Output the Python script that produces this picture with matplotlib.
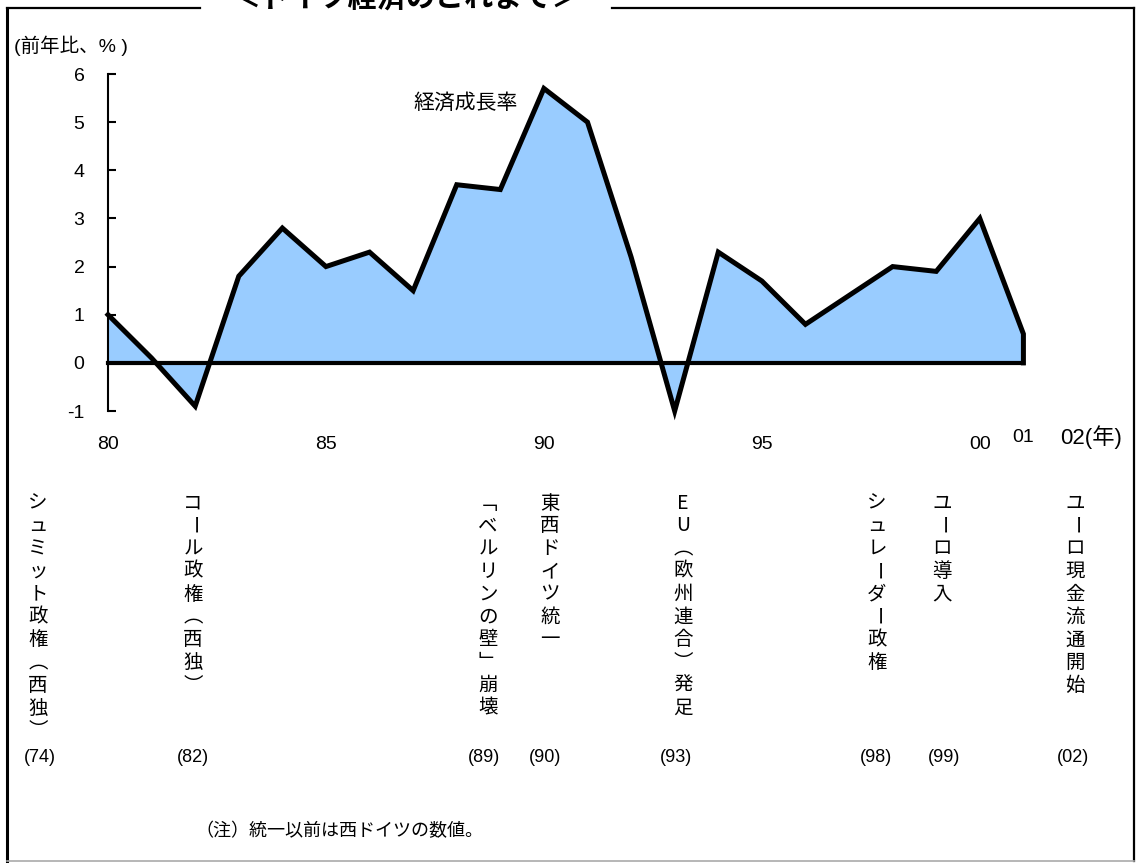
import matplotlib
matplotlib.use("Agg")
import matplotlib.pyplot as plt
from matplotlib.lines import Line2D

plt.rcParams['font.family'] = ['Liberation Sans', 'Noto Sans CJK JP']
plt.rcParams['axes.unicode_minus'] = False

# data
years = list(range(1980, 2002))
growth = [1.0, 0.1, -0.9, 1.8, 2.8, 2.0, 2.3, 1.5, 3.7, 3.6, 5.7,
          5.0, 2.2, -1.0, 2.3, 1.7, 0.8, 1.4, 2.0, 1.9, 3.0, 0.6]
xtick_pos = [1980, 1985, 1990, 1995, 2000]
xtick_labels = ['80', '85', '90', '95', '00']
events = ['シュミット政権︵西独︶', 'コール政権︵西独︶', '﹁ベルリンの壁﹂崩壊', '東西ドイツ統一',
          'EU︵欧州連合︶発足', 'シュレーダー政権', 'ユーロ導入', 'ユーロ現金流通開始']
event_years = ['(74)', '(82)', '(89)', '(90)', '(93)', '(98)', '(99)', '(02)']

W, H = 1138, 863
fig = plt.figure(figsize=(W / 100, H / 100), dpi=100)

def fx(px):
    return px / W

def fy(py):
    return 1 - py / H

ax = fig.add_axes([fx(108), fy(411), fx(1067) - fx(108), fy(74) - fy(411)])
ax.set_xlim(1980, 2002)
ax.set_ylim(-1, 6)

ax.fill_between(years, growth, 0, color='#99CCFF', lw=0, zorder=1)
ax.plot(years + [years[-1]], growth + [0], color='black', lw=3.6,
        solid_joinstyle='miter', clip_on=False, zorder=3)
ax.plot([years[0], years[-1]], [0, 0], color='black', lw=3.0, clip_on=False, zorder=2)

for s in ['top', 'right', 'bottom']:
    ax.spines[s].set_visible(False)
ax.spines['left'].set_bounds(-1, 6)
ax.spines['left'].set_linewidth(1.5)
ax.set_yticks(range(-1, 7))
ax.tick_params(axis='y', direction='in', length=6, width=1.5, pad=17, labelsize=14)
ax.set_xticks(xtick_pos)
ax.set_xticklabels(xtick_labels)
ax.tick_params(axis='x', length=0, pad=18, labelsize=14)

ax.text(2001, -1.55, '01', ha='center', va='center', fontsize=14)
ax.text(2001.85, -1.55, '02(年)', ha='left', va='center', fontsize=16)
ax.text(1987.0, 5.4, '経済成長率', ha='left', va='center', fontsize=15)

# labels around the chart
fig.text(fx(14), fy(46), '(前年比、% )', ha='left', va='center', fontsize=14)
fig.text(fx(406), fy(8), '＜ドイツ経済のこれまで＞', ha='center', va='baseline',
         fontsize=21, fontweight='bold', family='Noto Sans CJK JP')
fig.text(fx(195), fy(831), '（注）統一以前は西ドイツの数値。', ha='left', va='center', fontsize=13)

# vertical event labels
col_x = [38, 193, 488, 550, 683, 877, 942, 1075]
year_x = [40, 193, 484, 545, 676, 876, 944, 1073]
step = 22.8
for cx, text in zip(col_x, events):
    py = 503
    for ch in text:
        rot = -90 if ch == 'ー' else 0
        fig.text(fx(cx), fy(py), ch, rotation=rot, ha='center', va='center',
                 fontsize=14, family='Noto Sans CJK JP')
        py += step
for yx, lab in zip(year_x, event_years):
    fig.text(fx(yx), fy(757), lab, ha='center', va='center', fontsize=13)

# outer frame with a gap for the title
frame = [([7, 7], [8, 861], 'black', 2.2), ([1134, 1134], [8, 861], 'black', 1.6),
         ([7, 1134], [861, 861], '#aaaaaa', 1.2), ([7, 200], [8, 8], 'black', 1.6),
         ([612, 1134], [8, 8], 'black', 1.6)]
for xs, ys, c, lw in frame:
    fig.add_artist(Line2D([fx(v) for v in xs], [fy(v) for v in ys], color=c, lw=lw,
                          transform=fig.transFigure))

fig.savefig('out.png', dpi=100)
